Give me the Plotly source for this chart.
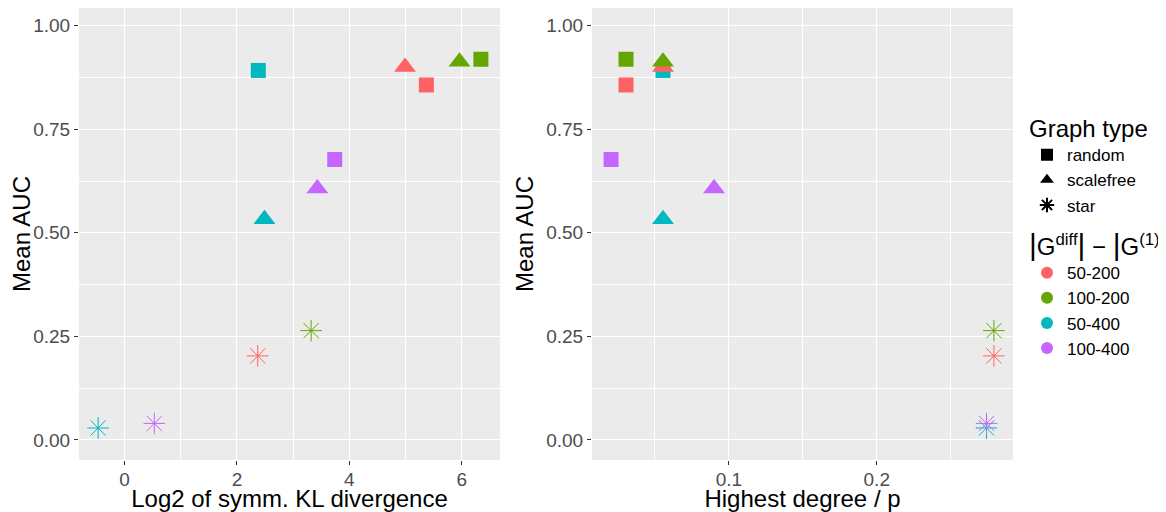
import plotly.graph_objects as go
from plotly.subplots import make_subplots

# ---- data ----
graph_types = ["random", "scalefree", "star"]
groups = ["50-200", "100-200", "50-400", "100-400"]
group_colors = ["#FF6262", "#65A600", "#00B8BE", "#C466FF"]
type_symbols = ["square", "triangle-up", "asterisk-open"]

# values per graph type, ordered like `groups`
kl_log2 = {
    "random":    [5.37, 6.34, 2.38, 3.74],
    "scalefree": [4.99, 5.96, 2.49, 3.43],
    "star":      [2.37, 3.32, -0.47, 0.53],
}
highest_deg = {
    "random":    [0.0305, 0.0305, 0.0555, 0.0204],
    "scalefree": [0.0555, 0.0555, 0.0555, 0.0900],
    "star":      [0.2792, 0.2792, 0.2742, 0.2742],
}
mean_auc = {
    "random":    [0.857, 0.919, 0.892, 0.677],
    "scalefree": [0.900, 0.913, 0.533, 0.607],
    "star":      [0.203, 0.264, 0.029, 0.040],
}

x_left_ticks = [0, 2, 4, 6]
x_right_ticks = [0.1, 0.2]
y_ticks = [0.0, 0.25, 0.5, 0.75, 1.0]

FONT = "Liberation Sans, Arial, sans-serif"
# page has an 8px body margin -> figure coords = page coords - 8
W, H = 1158, 504
ML, MR, MT, MB = 71, 153, 0, 52
PW = W - ML - MR

fig = make_subplots(rows=1, cols=2, horizontal_spacing=0.0)

sizes = {"square": 15, "triangle-up": 19, "asterisk-open": 18}

for gt, sym in zip(graph_types, type_symbols):
    is_star = sym == "asterisk-open"
    for col, xs in ((1, kl_log2[gt]), (2, highest_deg[gt])):
        fig.add_trace(
            go.Scatter(
                x=xs,
                y=mean_auc[gt],
                mode="markers",
                showlegend=False,
                hoverinfo="x+y",
                marker=dict(
                    symbol=sym,
                    size=sizes[sym],
                    color=group_colors,
                    line=dict(color=group_colors, width=1.0 if is_star else 0),
                ),
            ),
            row=1, col=col,
        )

# legend entries: graph type (shapes)
for gt, sym in zip(graph_types, type_symbols):
    is_star = sym == "asterisk-open"
    fig.add_trace(
        go.Scatter(
            x=[None], y=[None], mode="markers", name=gt, legend="legend",
            marker=dict(symbol=sym, size=16, color="black",
                        line=dict(color="black", width=1 if is_star else 0)),
        ),
        row=1, col=1,
    )
# legend entries: groups (colours)
for g, c in zip(groups, group_colors):
    fig.add_trace(
        go.Scatter(
            x=[None], y=[None], mode="markers", name=g, legend="legend2",
            marker=dict(symbol="circle", size=16, color=c),
        ),
        row=1, col=1,
    )

axis_common = dict(
    showgrid=True, gridcolor="white", gridwidth=1.3,
    zeroline=False, showline=False,
    ticks="outside", ticklen=4, tickwidth=1.1, tickcolor="#333333",
    tickfont=dict(family=FONT, size=19, color="#4D4D4D"),
    automargin=False,
)

fig.update_xaxes(
    **axis_common,
    range=[-0.81, 6.68], tickvals=x_left_ticks,
    ticklabelstandoff=-2,
    minor=dict(dtick=1, tick0=0, showgrid=True, gridcolor="white", gridwidth=0.6, ticks=""),
    title=dict(text="Log2 of symm. KL divergence", font=dict(family=FONT, size=24, color="black"), standoff=4),
    domain=[0, 421 / PW],
    row=1, col=1,
)
fig.update_xaxes(
    **axis_common,
    range=[0.0075, 0.2921], tickvals=x_right_ticks, ticktext=["0.1", "0.2"],
    ticklabelstandoff=-2,
    minor=dict(dtick=0.05, tick0=0, showgrid=True, gridcolor="white", gridwidth=0.6, ticks=""),
    title=dict(text="Highest degree / p", font=dict(family=FONT, size=24, color="black"), standoff=4),
    domain=[(592 - 79) / PW, 1.0],
    row=1, col=2,
)
for col in (1, 2):
    fig.update_yaxes(
        **axis_common,
        range=[-0.0483, 1.0427], tickvals=y_ticks, tickformat=".2f",
        minor=dict(dtick=0.125, tick0=0, showgrid=True, gridcolor="white", gridwidth=0.6, ticks=""),
        title=dict(text="Mean AUC", font=dict(family=FONT, size=24, color="black"), standoff=5),
        row=1, col=col,
    )

bar = '<span style="font-size:30px">|</span>'
fig.update_layout(
    width=W, height=H,
    margin=dict(l=ML, r=MR, t=MT, b=MB),
    paper_bgcolor="white",
    plot_bgcolor="#EBEBEB",
    font=dict(family=FONT, color="black"),
    legend=dict(
        title=dict(text="Graph type", font=dict(family=FONT, size=24)),
        font=dict(family=FONT, size=17),
        xref="container", yref="container",
        x=1019 / W, xanchor="left", y=1 - 98 / H, yanchor="top",
        bgcolor="rgba(0,0,0,0)", itemsizing="constant",
    ),
    legend2=dict(
        title=dict(text=f"{bar}G<sup>diff</sup>{bar} − {bar}G<sup>(1)</sup>{bar}",
                   font=dict(family=FONT, size=24)),
        font=dict(family=FONT, size=17),
        xref="container", yref="container",
        x=1019 / W, xanchor="left", y=1 - 216 / H, yanchor="top",
        bgcolor="rgba(0,0,0,0)", itemsizing="constant",
    ),
)

fig.write_html("out.html")
